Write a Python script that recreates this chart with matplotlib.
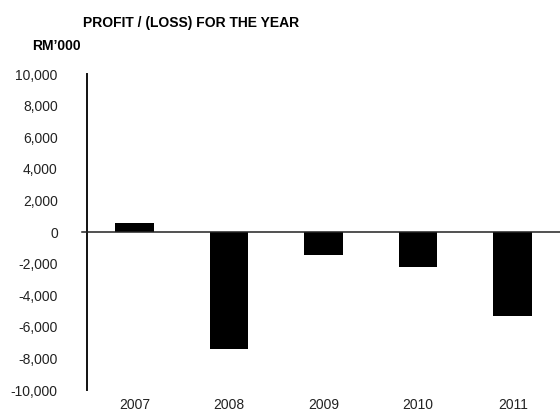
import matplotlib
matplotlib.use("Agg")
import matplotlib.pyplot as plt
from matplotlib.ticker import FuncFormatter

# Data
years = ["2007", "2008", "2009", "2010", "2011"]
profit = [600, -7400, -1450, -2200, -5300]  # RM'000
y_ticks = list(range(-10000, 10001, 2000))

plt.rcParams['font.family'] = ['Liberation Sans', 'DejaVu Sans']

fig = plt.figure(figsize=(5.6, 4.19), dpi=100)
ax = fig.add_axes([0.1554, 0.0692, 0.8446, 0.754])

x = list(range(len(years)))
ax.bar(x, profit, width=0.41, color="black", zorder=2)

ax.set_xlim(-0.5, 4.5)
ax.set_ylim(-10000, 10000)
ax.set_yticks(y_ticks)
ax.yaxis.set_major_formatter(FuncFormatter(lambda v, p: f"{int(v):,}"))
ax.set_xticks(x)
ax.set_xticklabels(years)

ax.tick_params(axis="y", length=0, pad=21, labelsize=10, colors="#222222")
ax.tick_params(axis="x", length=0, pad=6, labelsize=10, colors="#222222")

for side in ["top", "right", "bottom"]:
    ax.spines[side].set_visible(False)
ax.spines["left"].set_linewidth(1.4)
ax.spines["left"].set_color("#111111")

# zero line
ax.axhline(0, xmin=-0.011, xmax=1, color="#222222", lw=1.1, clip_on=False, zorder=3)

fig.text(83 / 560, 1 - 23 / 419, "PROFIT / (LOSS) FOR THE YEAR", fontsize=10,
         fontweight="bold", ha="left", va="center")
fig.text(32 / 560, 1 - 46 / 419, "RM\u2019000", fontsize=10,
         fontweight="bold", ha="left", va="center")

fig.savefig("out.png", dpi=100)
